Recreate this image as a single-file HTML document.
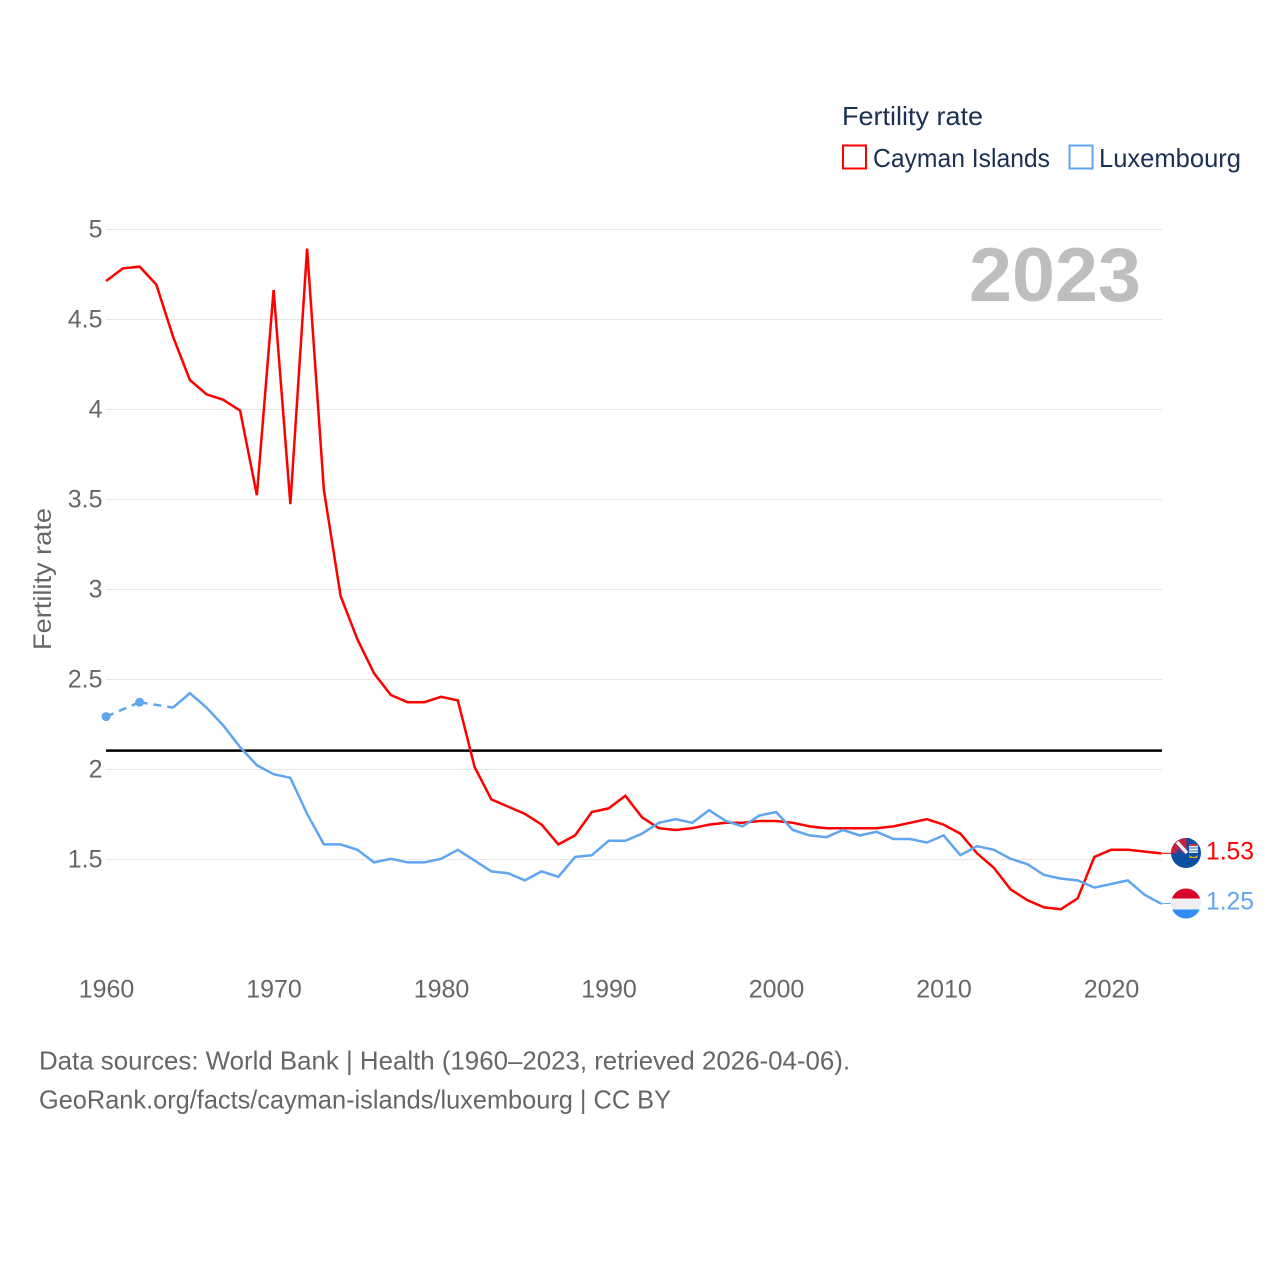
<!DOCTYPE html>
<html lang="en">
<head>
<meta charset="utf-8">
<title>Fertility rate: Cayman Islands and Luxembourg</title>
<style>
html,body{margin:0;padding:0;background:#fff;}
svg{display:block;font-family:"Liberation Sans",sans-serif;}
</style>
</head>
<body>
<svg id="chart" xmlns="http://www.w3.org/2000/svg" width="1280" height="1280" viewBox="0 0 1280 1280">
  <rect width="1280" height="1280" fill="#fff"/>
  <g id="grid"></g>
  <g id="yticks"></g>
  <g id="xticks"></g>
  <text transform="translate(51,650) rotate(-90)" font-size="25" fill="#666" textLength="142" lengthAdjust="spacingAndGlyphs">Fertility rate</text>
  <text x="969" y="301" font-size="76" font-weight="bold" fill="#bebebe" textLength="172" lengthAdjust="spacingAndGlyphs">2023</text>

  <g>
    <text x="842" y="125" font-size="26" fill="#1a3050" textLength="141" lengthAdjust="spacingAndGlyphs">Fertility rate</text>
    <g>
      <rect x="843" y="145.5" width="23" height="23" fill="#fff" stroke="#ff0000" stroke-width="2"/>
      <text x="873" y="167" font-size="26" fill="#1a3050" textLength="177" lengthAdjust="spacingAndGlyphs">Cayman Islands</text>
    </g>
    <g>
      <rect x="1069.5" y="145.5" width="23" height="23" fill="#fff" stroke="#60a5f0" stroke-width="2"/>
      <text x="1099" y="167" font-size="26" fill="#1a3050" textLength="142" lengthAdjust="spacingAndGlyphs">Luxembourg</text>
    </g>
  </g>

  <g id="threshold"></g>
  <g id="series" transform="translate(-0.4,-0.7)"></g>

  <defs>
    <clipPath id="flag-clip-cy"><circle cx="1186" cy="853" r="15"/></clipPath>
    <clipPath id="flag-clip-lu"><circle cx="1186" cy="903.5" r="15"/></clipPath>
  </defs>
  <g>
    <path d="M1186 838 L1190 838 L1190 845 L1186 845 Z" fill="#0b4ea2"/>
    <g clip-path="url(#flag-clip-cy)">
      <rect x="1171" y="838" width="30" height="30" fill="#0b4ea2"/>
      <rect x="1171" y="838" width="15.5" height="15.5" fill="#c8203c"/>
      <path d="M1177 842 L1187 853" stroke="#f2f2f8" stroke-width="3.5"/>
      <path d="M1179 848 L1184 853.5 L1175 853.5 Z" fill="#2b4a9a"/>
      <rect x="1189" y="846" width="9" height="7" fill="#e8e8f0"/>
      <path d="M1189 848 H1198 M1189 851 H1198" stroke="#3a76c4" stroke-width="1"/>
      <path d="M1189 845 h9" stroke="#b84040" stroke-width="2"/>
      <path d="M1189 855 q4.5 4 9 0 l-1 3 h-7 z" fill="#e3b71a"/>
    </g>
  </g>
  <g clip-path="url(#flag-clip-lu)">
    <rect x="1171" y="888" width="30" height="10.5" fill="#d8042a"/>
    <rect x="1171" y="898.5" width="30" height="11" fill="#eeeeee"/>
    <rect x="1171" y="909.5" width="30" height="10" fill="#338cf7"/>
  </g>
  <text x="1206" y="859.5" font-size="25" fill="#ff0000" textLength="48" lengthAdjust="spacingAndGlyphs">1.53</text>
  <text x="1206" y="909.5" font-size="25" fill="#60a5f0" textLength="48" lengthAdjust="spacingAndGlyphs">1.25</text>

  <text x="39" y="1069.5" font-size="26" fill="#666" textLength="811" lengthAdjust="spacingAndGlyphs">Data sources: World Bank | Health (1960–2023, retrieved 2026-04-06).</text>
  <text x="39" y="1108.5" font-size="26" fill="#666" textLength="632" lengthAdjust="spacingAndGlyphs">GeoRank.org/facts/cayman-islands/luxembourg | CC BY</text>
</svg>
<script>
const startYear = 1960;
const caymanValues = [4.71,4.78,4.79,4.69,4.40,4.16,4.08,4.05,3.99,3.52,4.66,3.47,4.89,3.55,2.96,2.72,2.53,2.41,2.37,2.37,2.40,2.38,2.01,1.83,1.79,1.75,1.69,1.58,1.63,1.76,1.78,1.85,1.73,1.67,1.66,1.67,1.69,1.70,1.70,1.71,1.71,1.70,1.68,1.67,1.67,1.67,1.67,1.68,1.70,1.72,1.69,1.64,1.53,1.45,1.33,1.27,1.23,1.22,1.28,1.51,1.55,1.55,1.54,1.53];
const luxembourgValues = [2.29,null,2.37,null,2.34,2.42,2.34,2.24,2.12,2.02,1.97,1.95,1.75,1.58,1.58,1.55,1.48,1.50,1.48,1.48,1.50,1.55,1.49,1.43,1.42,1.38,1.43,1.40,1.51,1.52,1.60,1.60,1.64,1.70,1.72,1.70,1.77,1.71,1.68,1.74,1.76,1.66,1.63,1.62,1.66,1.63,1.65,1.61,1.61,1.59,1.63,1.52,1.57,1.55,1.50,1.47,1.41,1.39,1.38,1.34,1.36,1.38,1.30,1.25];
const yTickValues = [5,4.5,4,3.5,3,2.5,2,1.5];
const xTickYears = [1960,1970,1980,1990,2000,2010,2020];
const replacementRate = 2.105;

const NS = 'http://www.w3.org/2000/svg';
function xScale(year){ return 106.5 + (year - 1960) * 16.75; }
function yScale(value){ return 229.5 + (5 - value) * 180; }
function make(tag, parent, attrs){
  const el = document.createElementNS(NS, tag);
  for (const k in attrs) el.setAttribute(k, attrs[k]);
  parent.appendChild(el);
  return el;
}

const gridGroup = document.getElementById('grid');
const yTickGroup = document.getElementById('yticks');
yTickValues.forEach(function(v){
  const line = make('line', gridGroup, {x1:106, x2:1162, y1:yScale(v), y2:yScale(v), stroke:'#e6e6e6', 'stroke-width':1});
  
  
  const label = make('text', yTickGroup, {x:102.5, y:yScale(v)+8, 'text-anchor':'end', 'font-size':25, fill:'#666'});
  
  
  label.textContent = String(v);
});

const xTickGroup = document.getElementById('xticks');
xTickYears.forEach(function(y){
  const label = make('text', xTickGroup, {x:xScale(y), y:997.5, 'text-anchor':'middle', 'font-size':25, fill:'#666'});
  
  
  label.textContent = String(y);
});

const thresholdGroup = document.getElementById('threshold');
const thresholdLine = make('line', thresholdGroup, {x1:106, x2:1162, y1:yScale(replacementRate), y2:yScale(replacementRate), stroke:'#000', 'stroke-width':2.5});



function segmentsOf(values){
  const solid = [], dashed = [], dots = [];
  let run = [], lastPoint = null, lastIndex = -1;
  values.forEach(function(v, i){
    if (v === null) return;
    const p = [xScale(startYear + i), yScale(v)];
    if (lastPoint && i - lastIndex > 1) {
      dashed.push([lastPoint, p]);
      if (run.length > 1) solid.push(run);
      run = [];
    }
    run.push(p);
    lastPoint = p;
    lastIndex = i;
  });
  if (run.length > 1) solid.push(run);
  values.forEach(function(v, i){
    if (v === null) return;
    const before = i > 0 ? values[i-1] : null;
    const after = i < values.length - 1 ? values[i+1] : null;
    if (before === null && after === null) dots.push([xScale(startYear + i), yScale(v)]);
  });
  return {solid: solid, dashed: dashed, dots: dots};
}
function pathOf(points){
  return points.map(function(p, i){ return (i ? 'L' : 'M') + p[0] + ' ' + p[1]; }).join(' ');
}

const seriesGroup = document.getElementById('series');
function drawSeries(values, color, flagY){
  const parts = segmentsOf(values);
  parts.dashed.forEach(function(pts){
    const dash = make('path', seriesGroup, {d:pathOf(pts), fill:'none', stroke:color, 'stroke-width':2.5, 'stroke-dasharray':'8 6'});
    
    
  });
  parts.solid.forEach(function(pts){
    const solid = make('path', seriesGroup, {d:pathOf(pts), fill:'none', stroke:color, 'stroke-width':2.5, 'stroke-linejoin':'miter'});
    
    
  });
  parts.dots.forEach(function(p){
    const dot = make('circle', seriesGroup, {cx:p[0], cy:p[1], r:4.5, fill:color});
    
    
  });
  const lastV = values[values.length - 1];
  const lastX = xScale(startYear + values.length - 1);
  const conn = make('line', seriesGroup, {x1:lastX, y1:yScale(lastV), x2:1172, y2:flagY, stroke:color, 'stroke-width':1});
  
  
}
drawSeries(caymanValues, '#ff0000', 854);
drawSeries(luxembourgValues, '#60a5f0', 904);
</script>
</body>
</html>
